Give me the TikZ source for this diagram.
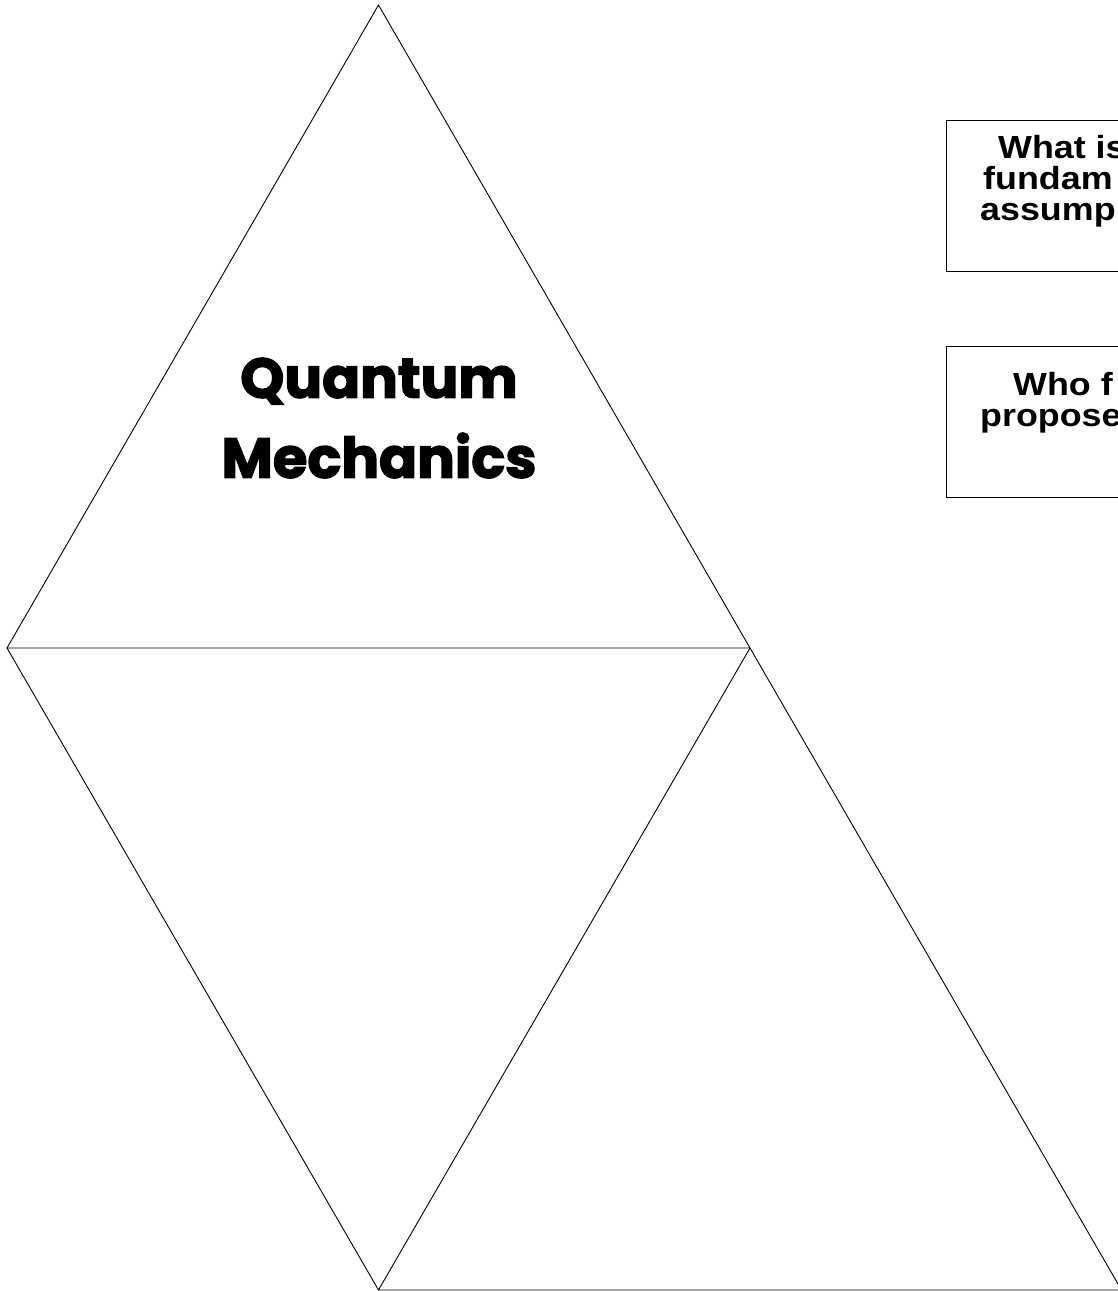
\documentclass[tikz,border=0pt]{standalone}
\usepackage{fontspec}
\setmainfont{Liberation Sans}
\newfontfamily\cardfont[FakeStretch=1.12]{Liberation Sans}
\newfontfamily\titlefont[BoldFeatures={FakeBold=2.5}]{Poppins}
\usepackage{tikz}
\usetikzlibrary{positioning}
\definecolor{mydark}{RGB}{0,0,0}
\tikzset{
  facet/.style={draw=mydark, line width=0.9pt, line join=miter},
  qbox/.style={rectangle, draw=mydark, line width=1pt, anchor=north west,
    minimum width=300pt, minimum height=151pt, inner sep=0pt},
  qtext/.style={anchor=north west, align=left, inner sep=0pt,
    font=\cardfont\bfseries\fontsize{32}{31}\selectfont},
  titlenode/.style={align=center, inner sep=0pt,
    font=\titlefont\bfseries\fontsize{56}{80}\selectfont}
}

\begin{document}
\begin{tikzpicture}[x=1pt, y=-1pt]
  \useasboundingbox (0,0) rectangle (1118,1291);
  \clip (0,0) rectangle (1118,1291);

  % Net of the pyramid
  \coordinate (apex) at (378.5,5);
  \coordinate (left) at (7,648);
  \coordinate (right) at (750,648);
  \coordinate (foot) at (378.5,1290);
  \coordinate (far) at (1121.5,1290);
  \draw[facet] (apex) -- (left) -- (right) -- cycle;
  \draw[facet] (left) -- (foot) -- (right);
  \draw[facet] (foot) -- (far) -- (right);

  \node[titlenode] (title) at (379,418) {Quantum\\Mechanics};

  % Question cards
  \node[qbox] (card1) at (946,120) {};
  \node[qtext] (text1) at (980,135)
    {\hspace*{18pt}What is\\\hspace*{3pt}fundam\\assump};

  \node[qbox] (card2) at (946,346) {};
  \node[qtext] (text2) at (980,372)
    {\hspace*{33pt}Who f\\propose};
\end{tikzpicture}
\end{document}
